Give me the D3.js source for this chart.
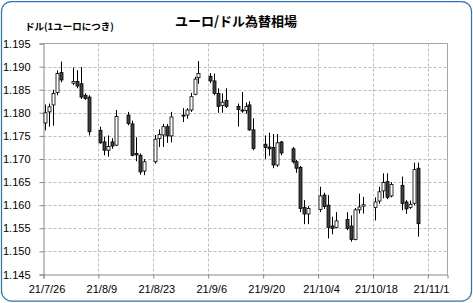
<!DOCTYPE html>
<html>
<head>
<meta charset="utf-8">
<script src="https://cdn.jsdelivr.net/npm/d3@7"></script>
<style>
  body { margin: 0; background: #fff; }
  .chart text { fill: #000; }
  .chart__tick { font-family: 'Liberation Sans', Arial, sans-serif; font-size: 11px; }
  .chart__title { font-family: 'Noto Sans CJK JP', sans-serif; font-size: 13px; font-weight: bold; }
  .chart__unit { font-family: 'Noto Sans CJK JP', sans-serif; font-size: 9.5px; font-weight: bold; }
</style>
</head>
<body>
<div id="chart"></div>
<script>
// trading days (weekdays only)
const days = [
  '2021-07-26', '2021-07-27', '2021-07-28', '2021-07-29', '2021-07-30',
  '2021-08-02', '2021-08-03', '2021-08-04', '2021-08-05', '2021-08-06',
  '2021-08-09', '2021-08-10', '2021-08-11', '2021-08-12', '2021-08-13',
  '2021-08-16', '2021-08-17', '2021-08-18', '2021-08-19', '2021-08-20',
  '2021-08-23', '2021-08-24', '2021-08-25', '2021-08-26', '2021-08-27',
  '2021-08-30', '2021-08-31', '2021-09-01', '2021-09-02', '2021-09-03',
  '2021-09-06', '2021-09-07', '2021-09-08', '2021-09-09', '2021-09-10',
  '2021-09-13', '2021-09-14', '2021-09-15', '2021-09-16', '2021-09-17',
  '2021-09-20', '2021-09-21', '2021-09-22', '2021-09-23', '2021-09-24',
  '2021-09-27', '2021-09-28', '2021-09-29', '2021-09-30', '2021-10-01',
  '2021-10-04', '2021-10-05', '2021-10-06', '2021-10-07', '2021-10-08',
  '2021-10-11', '2021-10-12', '2021-10-13', '2021-10-14', '2021-10-15',
  '2021-10-18', '2021-10-19', '2021-10-20', '2021-10-21', '2021-10-22',
  '2021-10-25', '2021-10-26', '2021-10-27', '2021-10-28', '2021-10-29',
];

const open = [
  1.1778, 1.1802, 1.1817, 1.1844, 1.1887,
  1.1864, 1.1868, 1.1863, 1.1838, 1.1834,
  1.1762, 1.1737, 1.1719, 1.1737, 1.1730,
  1.1795, 1.1776, 1.1712, 1.1708, 1.1674,
  1.1694, 1.1744, 1.1752, 1.1770, 1.1750,
  1.1795, 1.1795, 1.1806, 1.1840, 1.1876,
  1.1879, 1.1869, 1.1842, 1.1816, 1.1827,
  1.1814, 1.1806, 1.1805, 1.1817, 1.1763,
  1.1732, 1.1726, 1.1725, 1.1687, 1.1737,
  1.1722, 1.1694, 1.1682, 1.1595, 1.1581,
  1.1591, 1.1622, 1.1600, 1.1555, 1.1552,
  1.1569, 1.1555, 1.1526, 1.1590, 1.1598,
  1.1595, 1.1609, 1.1631, 1.1651, 1.1620,
  1.1643, 1.1607, 1.1595, 1.1604, 1.1680,
];

const high = [
  1.1818, 1.1820, 1.1850, 1.1892, 1.1911,
  1.1898, 1.1892, 1.1899, 1.1842, 1.1838,
  1.1770, 1.1748, 1.1751, 1.1745, 1.1806,
  1.1802, 1.1783, 1.1747, 1.1712, 1.1700,
  1.1752, 1.1764, 1.1776, 1.1776, 1.1802,
  1.1810, 1.1810, 1.1843, 1.1878, 1.1912,
  1.1886, 1.1885, 1.1853, 1.1842, 1.1853,
  1.1820, 1.1845, 1.1822, 1.1825, 1.1788,
  1.1751, 1.1757, 1.1754, 1.1754, 1.1739,
  1.1726, 1.1698, 1.1685, 1.1611, 1.1598,
  1.1640, 1.1627, 1.1622, 1.1575, 1.1585,
  1.1585, 1.1578, 1.1594, 1.1625, 1.1618,
  1.1617, 1.1640, 1.1669, 1.1669, 1.1650,
  1.1662, 1.1611, 1.1610, 1.1692, 1.1692,
];

const low = [
  1.1762, 1.1770, 1.1772, 1.1838, 1.1866,
  1.1860, 1.1853, 1.1830, 1.1828, 1.1751,
  1.1733, 1.1708, 1.1705, 1.1722, 1.1728,
  1.1773, 1.1706, 1.1695, 1.1666, 1.1665,
  1.1690, 1.1726, 1.1726, 1.1735, 1.1736,
  1.1780, 1.1787, 1.1802, 1.1838, 1.1863,
  1.1864, 1.1838, 1.1800, 1.1800, 1.1810,
  1.1770, 1.1800, 1.1798, 1.1761, 1.1719,
  1.1700, 1.1707, 1.1680, 1.1683, 1.1708,
  1.1690, 1.1670, 1.1585, 1.1559, 1.1559,
  1.1585, 1.1592, 1.1528, 1.1537, 1.1550,
  1.1546, 1.1521, 1.1524, 1.1582, 1.1582,
  1.1567, 1.1603, 1.1615, 1.1613, 1.1617,
  1.1589, 1.1581, 1.1592, 1.1600, 1.1532,
];

const close = [
  1.1800, 1.1813, 1.1842, 1.1885, 1.1871,
  1.1868, 1.1858, 1.1834, 1.1831, 1.1759,
  1.1735, 1.1719, 1.1727, 1.1728, 1.1792,
  1.1777, 1.1708, 1.1709, 1.1672, 1.1694,
  1.1743, 1.1753, 1.1770, 1.1750, 1.1791,
  1.1793, 1.1806, 1.1835, 1.1873, 1.1885,
  1.1869, 1.1842, 1.1814, 1.1823, 1.1814,
  1.1807, 1.1804, 1.1814, 1.1763, 1.1723,
  1.1725, 1.1722, 1.1687, 1.1735, 1.1713,
  1.1694, 1.1680, 1.1593, 1.1581, 1.1593,
  1.1620, 1.1597, 1.1552, 1.1550, 1.1566,
  1.1550, 1.1526, 1.1590, 1.1596, 1.1601,
  1.1607, 1.1629, 1.1649, 1.1617, 1.1645,
  1.1604, 1.1592, 1.1602, 1.1677, 1.1560,
];

const yTicks = [1.145, 1.150, 1.155, 1.160, 1.165, 1.170, 1.175, 1.180, 1.185, 1.190, 1.195];
const xTickDates = ['2021-07-26', '2021-08-09', '2021-08-23', '2021-09-06', '2021-09-20', '2021-10-04', '2021-10-18', '2021-11-01'];

const title = 'ユーロ/ドル為替相場';
const unitLabel = 'ドル(1ユーロにつき)';

function visualize() {
  const canvasWidth = 473;
  const canvasHeight = 303;
  const plot = { left: 43.5, right: 447.5, top: 43.5, bottom: 274.5 };
  const parseDate = d3.utcParse('%Y-%m-%d');
  const formatDate = d3.utcFormat('%y/%-m/%-d');

  const candles = days.map((d, i) => ({
    date: parseDate(d),
    open: open[i],
    high: high[i],
    low: low[i],
    close: close[i],
  }));

  const svg = d3.select('#chart')
    .append('svg')
      .attr('class', 'chart')
      .attr('width', canvasWidth)
      .attr('height', canvasHeight);

  // outer rounded frame
  svg.append('rect')
    .attr('x', 1.5)
    .attr('y', 1.5)
    .attr('width', 470)
    .attr('height', 299.5)
    .attr('rx', 10)
    .attr('fill', '#fff')
    .attr('stroke', '#2e75b6')
    .attr('stroke-width', 1.25);

  // scales: date axis runs one day past the last tick span, candles sit mid-day
  const scaleX = d3.scaleUtc()
    .domain([parseDate('2021-07-26'), parseDate('2021-11-06')])
    .range([plot.left, plot.right]);

  const scaleY = d3.scaleLinear()
    .domain([1.145, 1.195])
    .range([plot.bottom, plot.top]);

  const halfDay = 12 * 3600 * 1000;
  const cx = d => scaleX(new Date(d.date.getTime() + halfDay));

  // grid
  const grid = svg.append('g').attr('class', 'chart__grid');
  grid.selectAll('.chart__hgrid')
    .data(yTicks.slice(1, -1))
    .enter()
    .append('line')
      .attr('x1', plot.left)
      .attr('x2', plot.right)
      .attr('y1', d => Math.round(scaleY(d)) + 0.5)
      .attr('y2', d => Math.round(scaleY(d)) + 0.5)
      .attr('stroke', '#bdbdbd')
      .attr('stroke-dasharray', '3,2');
  grid.selectAll('.chart__vgrid')
    .data(xTickDates.slice(1))
    .enter()
    .append('line')
      .attr('x1', d => Math.round(scaleX(parseDate(d))) + 0.5)
      .attr('x2', d => Math.round(scaleX(parseDate(d))) + 0.5)
      .attr('y1', plot.top)
      .attr('y2', plot.bottom)
      .attr('stroke', '#bdbdbd')
      .attr('stroke-dasharray', '3,2');

  // plot area border (top and right)
  svg.append('path')
    .attr('d', `M${plot.left},${plot.top}H${plot.right}V${plot.bottom}`)
    .attr('fill', 'none')
    .attr('stroke', '#a6a6a6');

  // axes
  const axisY = d3.axisLeft(scaleY)
    .tickValues(yTicks)
    .tickFormat(d3.format('.3f'))
    .tickSize(4)
    .tickPadding(9);
  const axisX = d3.axisBottom(scaleX)
    .tickValues(xTickDates.map(parseDate))
    .tickFormat(formatDate)
    .tickSize(4)
    .tickPadding(7);

  svg.append('g')
    .attr('class', 'chart__axis chart__axis--y')
    .attr('transform', `translate(${plot.left}, 0)`)
    .call(axisY)
    .call(g => g.select('.domain').attr('stroke', '#868686'))
    .call(g => g.selectAll('.tick line').attr('stroke', '#868686'))
    .call(g => g.selectAll('text').attr('class', 'chart__tick'));

  svg.append('g')
    .attr('class', 'chart__axis chart__axis--x')
    .attr('transform', `translate(0, ${plot.bottom})`)
    .call(axisX)
    .call(g => g.select('.domain').attr('stroke', '#868686'))
    .call(g => g.selectAll('.tick line').attr('stroke', '#868686'))
    .call(g => g.selectAll('text').attr('class', 'chart__tick').attr('dx', 3));

  // candles
  const marks = svg.append('g')
    .attr('class', 'chart__candles')
    .selectAll('.chart__candle')
    .data(candles)
    .enter()
    .append('g')
      .attr('class', 'chart__candle');

  marks.append('line')
    .attr('x1', d => Math.round(cx(d)) + 0.5)
    .attr('x2', d => Math.round(cx(d)) + 0.5)
    .attr('y1', d => scaleY(d.high))
    .attr('y2', d => scaleY(d.low))
    .attr('stroke', '#000')
    .attr('stroke-width', 1);

  marks.append('rect')
    .attr('x', d => Math.round(cx(d)) - 1)
    .attr('y', d => scaleY(Math.max(d.open, d.close)))
    .attr('width', 3)
    .attr('height', d => Math.max(1, Math.abs(scaleY(d.open) - scaleY(d.close))))
    .attr('fill', d => (d.close >= d.open ? '#fff' : '#404040'))
    .attr('stroke', '#000')
    .attr('stroke-width', 0.8);

  // title and unit label
  svg.append('text')
    .attr('class', 'chart__title')
    .attr('x', 236)
    .attr('y', 26)
    .attr('text-anchor', 'middle')
    .text(title);

  svg.append('text')
    .attr('class', 'chart__unit')
    .attr('x', 25)
    .attr('y', 30)
    .text(unitLabel);
}

visualize();
</script>
</body>
</html>
